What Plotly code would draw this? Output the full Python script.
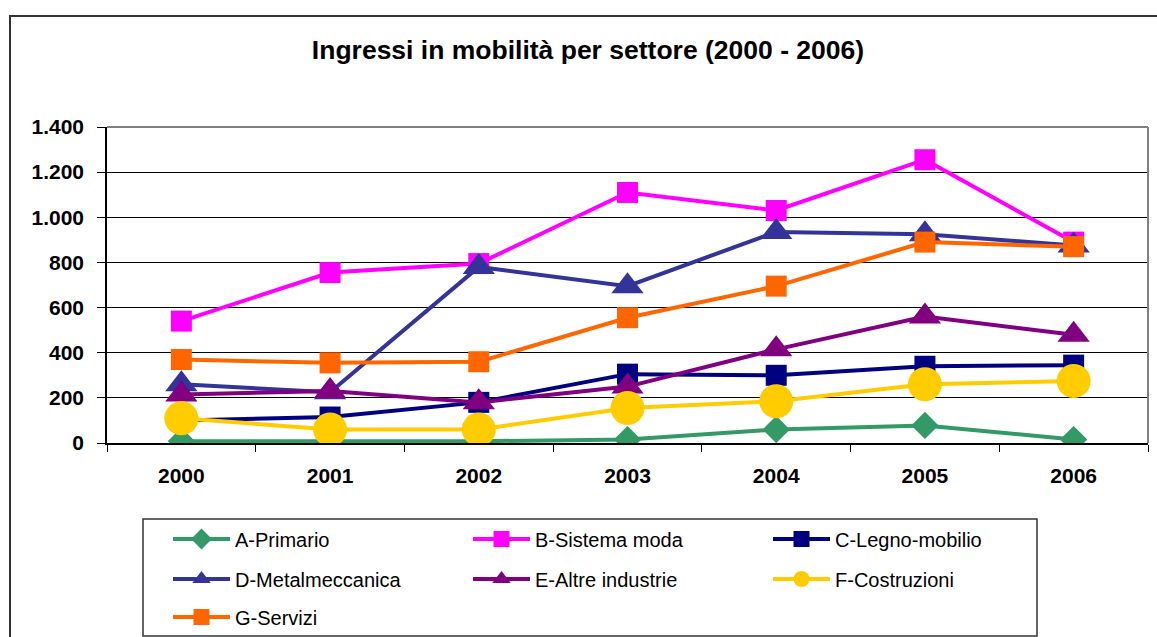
import plotly.graph_objects as go

# ---------------- data ----------------
years = ['2000', '2001', '2002', '2003', '2004', '2005', '2006']
a_primario = [8, 8, 8, 15, 60, 78, 15]
b_sistema_moda = [540, 755, 795, 1110, 1030, 1255, 890]
c_legno_mobilio = [100, 115, 180, 305, 300, 340, 345]
d_metalmeccanica = [260, 225, 780, 695, 935, 925, 875]
e_altre_industrie = [215, 230, 180, 250, 415, 560, 480]
f_costruzioni = [110, 60, 60, 155, 185, 260, 275]
g_servizi = [370, 355, 360, 555, 695, 890, 870]

series_names = ['A-Primario', 'B-Sistema moda', 'C-Legno-mobilio',
                'D-Metalmeccanica', 'E-Altre industrie', 'F-Costruzioni',
                'G-Servizi']
y_tickvals = [0, 200, 400, 600, 800, 1000, 1200, 1400]
y_ticktext = ['0', '200', '400', '600', '800', '1.000', '1.200', '1.400']
title_text = 'Ingressi in mobilità per settore (2000 - 2006)'

# ---------------- layout geometry ----------------
W, H = 1157, 637
L, R, T, B = 107, 1148, 127, 443   # plot area in px
PW, PH = R - L, B - T


def px_x(p):
    return (p - L) / PW


def px_y(p):
    return (B - p) / PH


FONT = 'Liberation Sans, Arial, sans-serif'

values = [a_primario, b_sistema_moda, c_legno_mobilio, d_metalmeccanica,
          e_altre_industrie, f_costruzioni, g_servizi]
colors = ['#339966', '#FF00FF', '#000080', '#333399', '#800080', '#FFCC00',
          '#FF6600']
symbols = ['diamond', 'square', 'square', 'triangle-up', 'triangle-up',
           'circle', 'square']
sizes = [21, 21, 21, 28, 28, 34, 21]
legend_ids = ['legend', 'legend', 'legend', 'legend2', 'legend2', 'legend2',
              'legend3']

fig = go.Figure()
for name, vals, col, sym, sz, lg in zip(series_names, values, colors, symbols,
                                        sizes, legend_ids):
    fig.add_trace(go.Scatter(
        x=years, y=vals, name=name, mode='lines+markers',
        line=dict(color=col, width=4),
        marker=dict(symbol=sym, size=sz, color=col, line=dict(width=0)),
        legend=lg,
    ))

legend_common = dict(
    orientation='h', xanchor='left', yanchor='middle',
    xref='container', yref='container',
    font=dict(family=FONT, size=20, color='black'),
    bgcolor='rgba(0,0,0,0)', borderwidth=0,
    entrywidth=228, entrywidthmode='pixels', itemwidth=57,
    traceorder='normal',
)

fig.update_layout(
    width=W, height=H, autosize=False,
    margin=dict(l=L, r=W - R, t=T, b=H - B, pad=0, autoexpand=False),
    paper_bgcolor='white', plot_bgcolor='white',
    title=dict(text=title_text, x=588 / W, xanchor='center',
               y=1 - 50 / H, yanchor='middle',
               font=dict(family=FONT, size=26.5, color='black',
                         weight='bold')),
    xaxis=dict(type='category', range=[-0.5, 6.5], tickson='boundaries',
               ticks='outside', ticklen=7, tickcolor='black', tickwidth=1,
               showline=True, linecolor='black', linewidth=1.5,
               showgrid=False, zeroline=False, ticklabelstandoff=13,
               automargin=False,
               tickfont=dict(family=FONT, size=21, color='black',
                             weight='bold')),
    yaxis=dict(range=[0, 1400], tickvals=y_tickvals, ticktext=y_ticktext,
               ticks='outside', ticklen=8, tickcolor='black', tickwidth=1,
               showline=True, linecolor='black', linewidth=1.5,
               showgrid=True, gridcolor='black', gridwidth=1,
               zeroline=False, ticklabelstandoff=9, automargin=False,
               tickfont=dict(family=FONT, size=21, color='black',
                             weight='bold')),
    legend=dict(x=168 / W, y=1 - 539 / H, **legend_common),
    legend2=dict(x=168 / W, y=1 - 579 / H, **legend_common),
    legend3=dict(x=168 / W, y=1 - 617 / H, **legend_common),
    showlegend=True,
)

shapes = [
    # outer chart border (extends beyond right/bottom of view)
    dict(type='rect', xref='paper', yref='paper',
         x0=px_x(10), x1=px_x(1165), y0=px_y(16), y1=px_y(645),
         line=dict(color='#333333', width=2), fillcolor='rgba(0,0,0,0)',
         layer='below'),
    # plot area top and right borders (gray)
    dict(type='line', xref='paper', yref='paper', x0=0, x1=1, y0=1, y1=1,
         line=dict(color='#808080', width=2), layer='above'),
    dict(type='line', xref='paper', yref='paper', x0=1, x1=1, y0=0, y1=1,
         line=dict(color='#808080', width=2), layer='above'),
    # legend box
    dict(type='rect', xref='paper', yref='paper',
         x0=px_x(143), x1=px_x(1037), y0=px_y(519), y1=px_y(636),
         line=dict(color='#333333', width=1.5), fillcolor='rgba(0,0,0,0)',
         layer='below'),
]
fig.update_layout(shapes=shapes)

fig.write_html('out.html')
